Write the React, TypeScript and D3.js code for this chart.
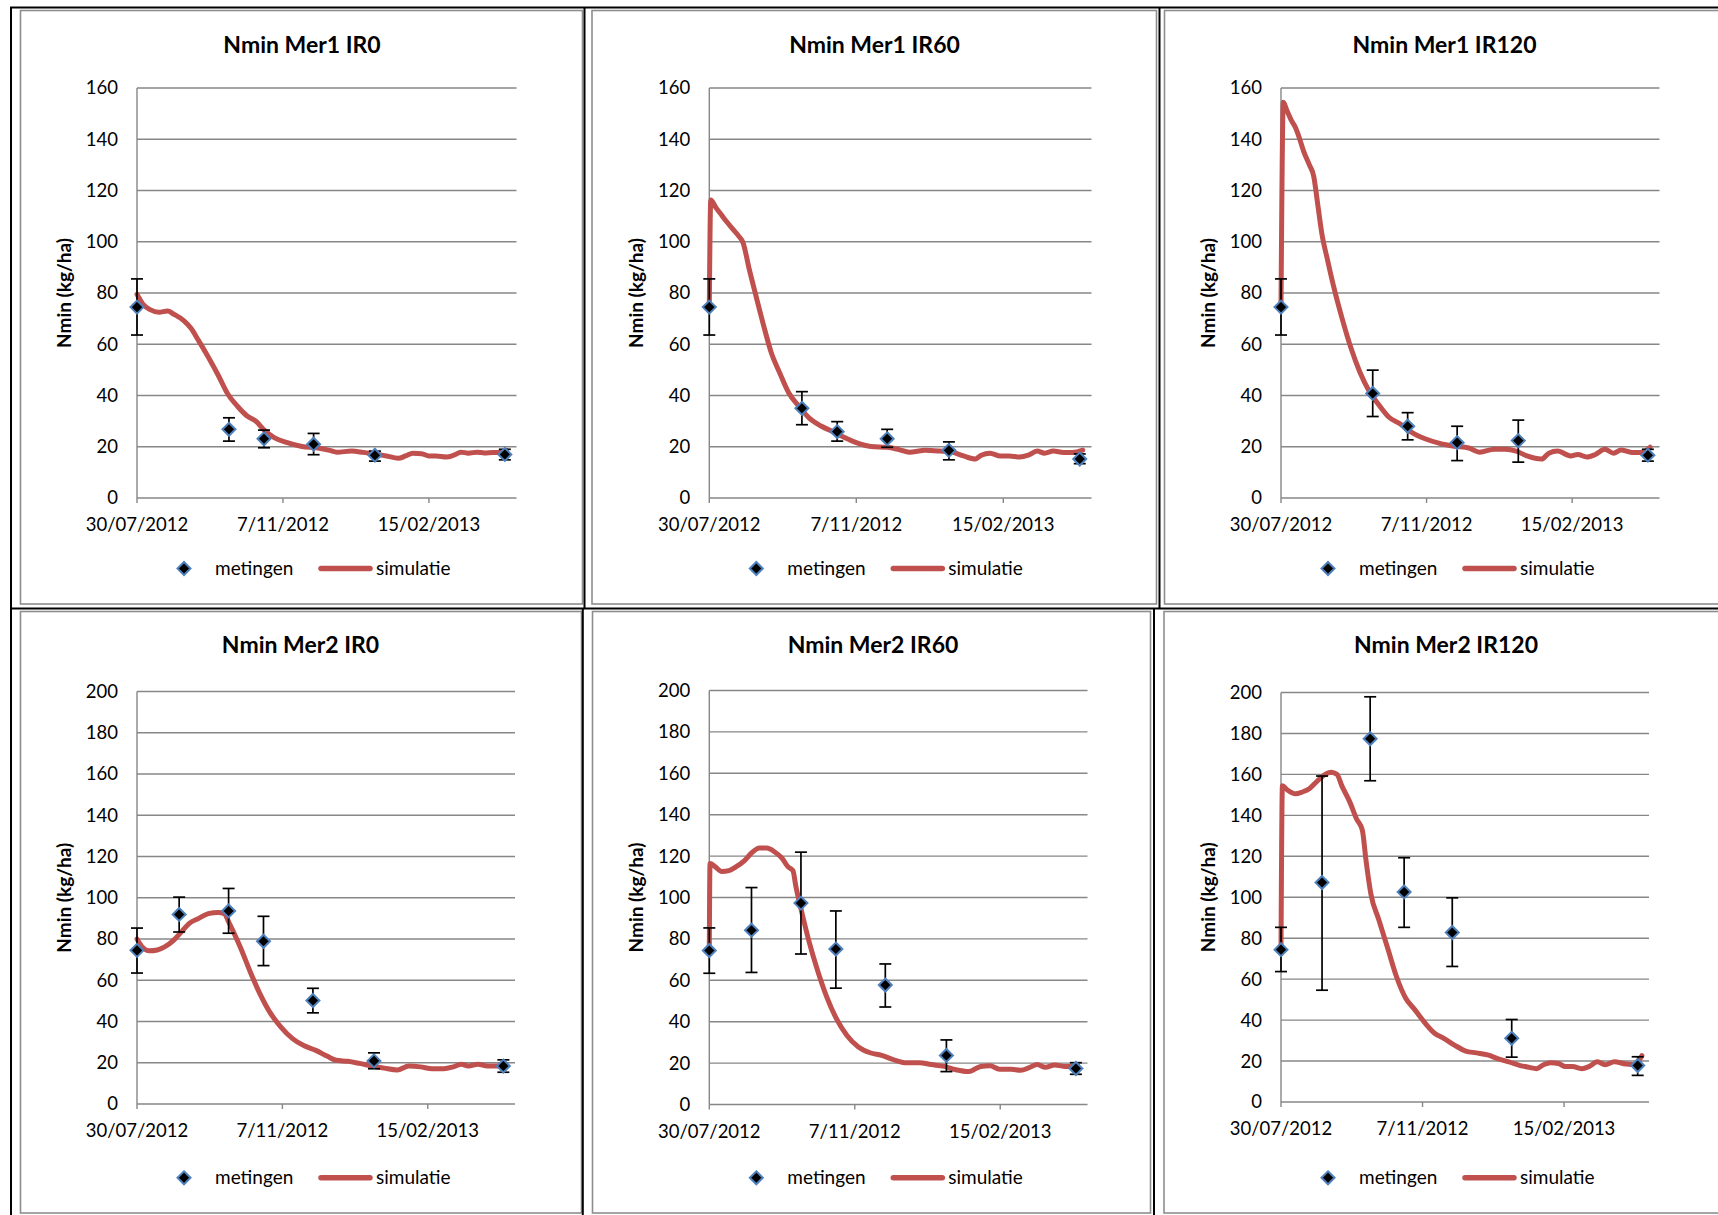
import React from 'react';
import * as d3 from 'd3';

// ---------- DATA ----------
const START_UTC = Date.UTC(2012, 6, 30);
const AXIS_SPAN_DAYS = 260;
const xTickDays = [0, 100, 200];
const xTickLabels = ['30/07/2012', '7/11/2012', '15/02/2013'];
const yTicksRow1 = [0, 20, 40, 60, 80, 100, 120, 140, 160];
const yTicksRow2 = [0, 20, 40, 60, 80, 100, 120, 140, 160, 180, 200];

const titles = ['Nmin Mer1 IR0', 'Nmin Mer1 IR60', 'Nmin Mer1 IR120', 'Nmin Mer2 IR0', 'Nmin Mer2 IR60', 'Nmin Mer2 IR120'];
const yAxisTitle = 'Nmin (kg/ha)';
const legendLabels = ['metingen', 'simulatie'];

// measurement days (days since 30/07/2012)
const measDaysMer1 = [0, 63, 87, 121, 163, 252];
const measDaysMer2 = [0, 29, 63, 87, 121, 163, 252];

const mer1IR0Meas = [74.5, 26.8, 23.1, 21.0, 16.7, 17.0];
const mer1IR0Lo = [63.6, 22.2, 19.6, 16.9, 14.4, 14.9];
const mer1IR0Hi = [85.5, 31.3, 26.5, 25.2, 18.3, 19.0];

const mer1IR60Meas = [74.5, 35.0, 25.9, 23.1, 18.6, 15.2];
const mer1IR60Lo = [63.6, 28.6, 22.2, 19.8, 14.9, 13.4];
const mer1IR60Hi = [85.5, 41.5, 29.8, 26.8, 21.9, 17.2];

const mer1IR120Meas = [74.5, 40.8, 28.0, 21.6, 22.4, 16.7];
const mer1IR120Lo = [63.6, 31.8, 22.7, 14.6, 14.0, 14.4];
const mer1IR120Hi = [85.5, 49.9, 33.3, 28.0, 30.4, 19.0];

const mer2IR0Meas = [74.5, 91.9, 93.6, 78.9, 50.2, 20.9, 18.4];
const mer2IR0Lo = [63.5, 83.4, 82.8, 67.1, 44.2, 17.1, 15.4];
const mer2IR0Hi = [85.3, 100.3, 104.5, 91.0, 56.1, 24.8, 21.4];

const mer2IR60Meas = [74.4, 84.2, 97.3, 75.1, 57.7, 23.7, 17.4];
const mer2IR60Lo = [63.4, 63.8, 72.7, 56.2, 47.1, 15.9, 14.6];
const mer2IR60Hi = [85.3, 104.8, 121.9, 93.5, 67.9, 31.2, 20.2];

const mer2IR120Meas = [74.4, 107.2, 177.4, 102.6, 82.8, 31.1, 17.8];
const mer2IR120Lo = [63.7, 54.6, 156.9, 85.3, 66.2, 21.9, 13.0];
const mer2IR120Hi = [85.3, 159.2, 197.9, 119.3, 99.7, 40.3, 22.1];

// simulation (days since 30/07/2012, Nmin kg/ha)
const mer1IR0SimDays = [0, 4, 9, 15, 21, 25, 32, 37, 42, 49, 56, 62, 69, 75, 82, 87, 94, 103, 113, 124, 132, 137, 147, 155, 163, 171, 179, 184, 189, 195, 200, 205, 212, 217, 222, 227, 233, 238, 244, 250, 253];
const mer1IR0SimVals = [79.5, 75.7, 73.5, 72.5, 73, 71.8, 69.2, 66.2, 61.6, 54.8, 47.5, 40.8, 35.7, 32.2, 29.7, 26.6, 23.6, 21.6, 20.1, 19.5, 18.6, 17.9, 18.3, 17.8, 17.2, 16.4, 15.5, 16.4, 17.5, 17.3, 16.4, 16.4, 16, 16.7, 17.9, 17.5, 17.9, 17.6, 17.8, 17.8, 18.6];

const mer1IR60SimDays = [0, 1, 4.5, 8.5, 12, 16, 20, 23, 27, 32, 37, 42, 48, 54, 61, 68, 76, 84, 92, 100, 110, 121, 129, 136, 147, 157, 165, 173, 181, 185, 191, 198, 204, 211, 217, 223, 228, 234, 241, 247, 254];
const mer1IR60SimVals = [74.5, 116.3, 113.3, 110.3, 107.7, 104.9, 102.2, 99.6, 89.7, 78.3, 67.2, 57, 48.7, 41.1, 35.7, 31.2, 28.1, 25.9, 23.6, 21.6, 20.1, 19.8, 18.9, 17.9, 18.6, 18.3, 17.9, 16.4, 15.2, 16.7, 17.5, 16.4, 16.4, 16, 16.7, 18.3, 17.5, 18.3, 17.8, 17.8, 18.7];

const mer1IR120SimDays = [0, 1.6, 4, 7, 10, 12.5, 15.5, 19.5, 22.5, 25, 28, 32, 37, 42, 48, 54, 60.5, 67, 74, 82, 89, 99, 109, 119, 129, 136.5, 146.5, 154, 161.5, 169, 179, 184, 190, 199, 204, 210, 216, 222.5, 228.5, 233.5, 241, 247.5, 253.5];
const mer1IR120SimVals = [74.5, 154.4, 151.3, 147.5, 144.5, 140.7, 135.4, 130, 125.5, 115.6, 103.4, 92.8, 80.6, 70, 58.6, 49.4, 41.8, 36.5, 31.6, 28.9, 25.9, 23.1, 21.3, 20.2, 19.5, 17.9, 19, 19, 18.3, 16.4, 15.2, 17.5, 18.3, 16.4, 17, 16, 17, 19, 17.5, 18.7, 17.8, 17.8, 19.8];

const mer2IR0SimDays = [0, 3.5, 8.5, 14, 19, 25.5, 31, 36, 42.5, 49, 56, 60, 63.5, 71.5, 78, 84.5, 91, 99, 107, 115, 123, 131, 137, 145, 153, 162, 170, 179, 187, 195, 203, 211, 217.5, 223, 228, 234.5, 241, 248, 252];
const mer2IR0SimVals = [80, 76.2, 74.3, 74.7, 76.2, 79.6, 83.8, 87.6, 90, 92.3, 92.9, 92.3, 87.6, 75.3, 63.9, 53.5, 44.9, 37.3, 31.7, 28.2, 26, 23.1, 21.2, 20.7, 19.7, 18.4, 17.4, 16.5, 18.4, 18, 17.1, 17.1, 18, 19.3, 18.4, 19.3, 18.4, 18.4, 18.4];

const mer2IR60SimDays = [0, 0.5, 4, 8.5, 13.5, 18.5, 24, 29, 34.5, 39.5, 45, 50, 54, 57.5, 59.5, 63.5, 68.5, 74, 80.5, 87, 94.5, 102.5, 110.5, 118.5, 126, 135.5, 144.5, 152.5, 161.5, 169.5, 178.5, 186.5, 193, 199.5, 207.5, 214, 220.5, 225.5, 231, 237.5, 244, 249.5, 253];
const mer2IR60SimVals = [74.4, 116.4, 114.9, 112.6, 113, 114.9, 117.7, 121.5, 123.9, 123.9, 122, 119, 114.9, 113, 105.4, 93.1, 78.9, 65.7, 52.4, 42, 33.5, 27.8, 25, 23.7, 21.8, 20.2, 20.2, 19.3, 18.4, 16.8, 15.9, 18.4, 18.7, 17, 17, 16.5, 18, 19.3, 18, 19.1, 18.4, 18.4, 19.3];

const mer2IR120SimDays = [0, 1, 4.5, 10, 15, 20, 25, 30.5, 35.5, 39.5, 43, 48.5, 53.5, 57.5, 60, 63.5, 69, 75.5, 81.5, 88, 94.5, 102, 108.5, 115, 122.5, 130.5, 138, 146, 153.5, 161, 169, 175.5, 180.5, 185.5, 190.5, 196, 201, 206, 212.5, 217.5, 223.5, 229, 235.5, 243.5, 249.5, 255];
const mer2IR120SimVals = [74.4, 154.4, 152.4, 150.5, 151.4, 153, 156.3, 159.7, 161.1, 160.1, 154.4, 146.7, 138.1, 132.7, 118.3, 101.6, 89.2, 74.8, 61.4, 50.8, 45.1, 38.4, 33.6, 31.1, 27.8, 24.9, 24, 23, 21.1, 19.6, 17.8, 16.9, 16.3, 18.2, 19.2, 18.8, 17.3, 17.3, 16.3, 17.3, 19.6, 18.2, 19.6, 18.6, 18.2, 22.6];

// ---------- STYLE / LAYOUT ----------
const FONT = 'Lato, "Open Sans", sans-serif';
const SIM_COLOR = '#C0504D';
const MARK_STROKE = '#4F81BD';
const GRID_COLOR = '#878787';
const FRAME_COLOR = '#8E8E8E';
const MARK_R = 6.5;

type Layout = { l: number; r: number; t: number; b: number; titleX: number; titleY: number; legendY: number };

const layouts: Layout[] = [
  { l: 137, r: 516.5, t: 88, b: 498, titleX: 302, titleY: 52.5, legendY: 568.5 },
  { l: 709.3, r: 1091.5, t: 88, b: 498, titleX: 874.5, titleY: 52.5, legendY: 568.5 },
  { l: 1281, r: 1659.5, t: 88, b: 498, titleX: 1444.5, titleY: 52.5, legendY: 568.5 },
  { l: 137, r: 515, t: 691.5, b: 1104, titleX: 300.5, titleY: 653, legendY: 1177.8 },
  { l: 709.3, r: 1087.5, t: 690.5, b: 1104.5, titleX: 873, titleY: 653, legendY: 1177.8 },
  { l: 1281, r: 1649, t: 692.5, b: 1102, titleX: 1446, titleY: 653, legendY: 1177.8 },
];

const grayFrames = [
  { x1: 20.5, y1: 10.5, x2: 582.5, y2: 604 },
  { x1: 592, y1: 10.5, x2: 1156.5, y2: 604 },
  { x1: 1164.5, y1: 10.5, x2: 1730, y2: 604 },
  { x1: 20.5, y1: 611.5, x2: 581.5, y2: 1213 },
  { x1: 592.5, y1: 611.5, x2: 1150.5, y2: 1213 },
  { x1: 1164, y1: 611.5, x2: 1730, y2: 1213 },
];

const blackLines = [
  { x1: 10, y1: 7.5, x2: 1718, y2: 7.5 },
  { x1: 11, y1: 7, x2: 11, y2: 1215 },
  { x1: 10, y1: 608.5, x2: 1718, y2: 608.5 },
  { x1: 584.5, y1: 7, x2: 584.5, y2: 608.5 },
  { x1: 1159.5, y1: 7, x2: 1159.5, y2: 608.5 },
  { x1: 582.8, y1: 608.5, x2: 582.8, y2: 1215 },
  { x1: 1154, y1: 608.5, x2: 1154, y2: 1215 },
];

const dayToDate = (d: number) => new Date(START_UTC + d * 86400000);

type PanelData = {
  title: string;
  yMax: number;
  yTicks: number[];
  measDays: number[];
  meas: number[];
  lo: number[];
  hi: number[];
  simDays: number[];
  simVals: number[];
};

const panels: PanelData[] = [
  { title: titles[0], yMax: 160, yTicks: yTicksRow1, measDays: measDaysMer1, meas: mer1IR0Meas, lo: mer1IR0Lo, hi: mer1IR0Hi, simDays: mer1IR0SimDays, simVals: mer1IR0SimVals },
  { title: titles[1], yMax: 160, yTicks: yTicksRow1, measDays: measDaysMer1, meas: mer1IR60Meas, lo: mer1IR60Lo, hi: mer1IR60Hi, simDays: mer1IR60SimDays, simVals: mer1IR60SimVals },
  { title: titles[2], yMax: 160, yTicks: yTicksRow1, measDays: measDaysMer1, meas: mer1IR120Meas, lo: mer1IR120Lo, hi: mer1IR120Hi, simDays: mer1IR120SimDays, simVals: mer1IR120SimVals },
  { title: titles[3], yMax: 200, yTicks: yTicksRow2, measDays: measDaysMer2, meas: mer2IR0Meas, lo: mer2IR0Lo, hi: mer2IR0Hi, simDays: mer2IR0SimDays, simVals: mer2IR0SimVals },
  { title: titles[4], yMax: 200, yTicks: yTicksRow2, measDays: measDaysMer2, meas: mer2IR60Meas, lo: mer2IR60Lo, hi: mer2IR60Hi, simDays: mer2IR60SimDays, simVals: mer2IR60SimVals },
  { title: titles[5], yMax: 200, yTicks: yTicksRow2, measDays: measDaysMer2, meas: mer2IR120Meas, lo: mer2IR120Lo, hi: mer2IR120Hi, simDays: mer2IR120SimDays, simVals: mer2IR120SimVals },
];

const diamond = (r: number) => `M0,${-r}L${r},0L0,${r}L${-r},0Z`;

function Panel({ data, lay }: { data: PanelData; lay: Layout }) {
  const x = d3.scaleUtc().domain([dayToDate(0), dayToDate(AXIS_SPAN_DAYS)]).range([lay.l, lay.r]);
  const y = d3.scaleLinear().domain([0, data.yMax]).range([lay.b, lay.t]);
  const simPts = data.simDays.map((d, i) => [d, data.simVals[i]] as [number, number]);
  const line = d3
    .line<[number, number]>()
    .x((p) => x(dayToDate(p[0])))
    .y((p) => y(p[1]))
    .curve(d3.curveMonotoneX);
  const cy = (lay.t + lay.b) / 2;
  const capW = 6;
  return (
    <g>
      {data.yTicks.map((v) => (
        <g key={v}>
          <line x1={lay.l} x2={lay.r} y1={y(v)} y2={y(v)} stroke={GRID_COLOR} strokeWidth={1.4} />
          <text x={lay.l - 19} y={y(v)} dy="0.35em" textAnchor="end" fontSize={18.5} fontFamily={FONT} fill="#000">
            {v}
          </text>
        </g>
      ))}
      <line x1={lay.l} x2={lay.l} y1={lay.t} y2={lay.b} stroke={GRID_COLOR} strokeWidth={1.4} />
      {xTickDays.map((d, i) => (
        <g key={d}>
          <line x1={x(dayToDate(d))} x2={x(dayToDate(d))} y1={lay.b} y2={lay.b + 5} stroke={GRID_COLOR} strokeWidth={1.4} />
          <text x={x(dayToDate(d))} y={lay.b + 33} textAnchor="middle" fontSize={18.5} fontFamily={FONT} fill="#000">
            {xTickLabels[i]}
          </text>
        </g>
      ))}
      <text x={lay.titleX} y={lay.titleY} textAnchor="middle" fontSize={23} fontWeight="bold" fontFamily={FONT} fill="#000">
        {data.title}
      </text>
      <text
        transform={`translate(${lay.l - 66},${cy}) rotate(-90)`}
        textAnchor="middle"
        fontSize={19}
        fontWeight="bold"
        fontFamily={FONT}
        fill="#000"
      >
        {yAxisTitle}
      </text>
      <path d={line(simPts) || ''} fill="none" stroke={SIM_COLOR} strokeWidth={5} strokeLinejoin="round" strokeLinecap="round" />
      {data.measDays.map((d, i) => {
        const px = x(dayToDate(d));
        return (
          <g key={'e' + i} stroke="#000" strokeWidth={1.7}>
            <line x1={px} x2={px} y1={y(data.lo[i])} y2={y(data.hi[i])} />
            <line x1={px - capW} x2={px + capW} y1={y(data.lo[i])} y2={y(data.lo[i])} />
            <line x1={px - capW} x2={px + capW} y1={y(data.hi[i])} y2={y(data.hi[i])} />
          </g>
        );
      })}
      {data.measDays.map((d, i) => (
        <path
          key={'m' + i}
          d={diamond(MARK_R)}
          transform={`translate(${x(dayToDate(d))},${y(data.meas[i])})`}
          fill="#000"
          stroke={MARK_STROKE}
          strokeWidth={2}
        />
      ))}
      <g>
        <path d={diamond(MARK_R)} transform={`translate(${lay.l + 47},${lay.legendY})`} fill="#000" stroke={MARK_STROKE} strokeWidth={2} />
        <text x={lay.l + 78} y={lay.legendY + 6.5} fontSize={19} fontFamily={FONT} fill="#000">
          {legendLabels[0]}
        </text>
        <line x1={lay.l + 184} x2={lay.l + 233} y1={lay.legendY} y2={lay.legendY} stroke={SIM_COLOR} strokeWidth={5.5} strokeLinecap="round" />
        <text x={lay.l + 239} y={lay.legendY + 6.5} fontSize={19} fontFamily={FONT} fill="#000">
          {legendLabels[1]}
        </text>
      </g>
    </g>
  );
}

export default function App() {
  return (
    <svg width={1718} height={1215} style={{ position: 'absolute', left: 0, top: 0, background: '#fff' }}>
      <rect x={0} y={0} width={1718} height={1215} fill="#fff" />
      {grayFrames.map((f, i) => (
        <rect key={'f' + i} x={f.x1} y={f.y1} width={f.x2 - f.x1} height={f.y2 - f.y1} fill="none" stroke={FRAME_COLOR} strokeWidth={1.6} />
      ))}
      {blackLines.map((l, i) => (
        <line key={'b' + i} x1={l.x1} y1={l.y1} x2={l.x2} y2={l.y2} stroke="#000" strokeWidth={2} />
      ))}
      {panels.map((p, i) => (
        <Panel key={i} data={p} lay={layouts[i]} />
      ))}
    </svg>
  );
}
